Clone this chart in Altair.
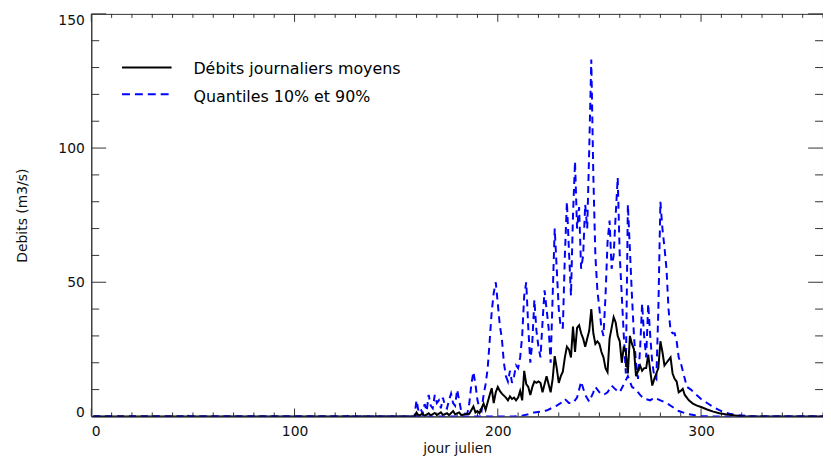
import altair as alt
import pandas as pd

# ---- data ----
mean_days = [1, 159, 160, 161, 163, 164, 166, 167, 169, 170, 172, 173, 175, 176, 178, 179, 181, 182, 184, 186,
             188, 189, 190, 191, 193, 194, 196, 197, 198, 199, 200, 201, 202, 204, 205, 206, 207, 208, 209, 210,
             211, 212, 213, 214, 215, 216, 217, 218, 219, 220, 221, 222, 223, 224, 225, 226, 227, 228, 229, 230,
             231, 232, 233, 234, 235, 236, 237, 238, 239, 240, 241, 242, 243, 244, 245, 246, 247, 248, 249, 250,
             251, 252, 253, 254, 255, 256, 257, 258, 259, 260, 261, 262, 263, 264, 265, 266, 267, 268, 269, 270,
             271, 272, 273, 274, 275, 276, 277, 278, 279, 280, 281, 282, 283, 284, 285, 286, 287, 288, 289, 290,
             291, 292, 293, 294, 296, 298, 300, 303, 306, 309, 312, 316, 320, 325, 365]
mean_vals = [0, 0, 1.5, 0.3, 1.0, 0.2, 1.2, 0.4, 1.3, 0.5, 1.5, 0.6, 1.2, 0.5, 2.0, 0.8, 1.5, 0.5, 0.8, 1.0,
             3.7, 1.5, 2.0, 1.2, 4.8, 2.5, 8.0, 10.5, 5.0, 9.0, 11.0, 9.5, 8.5, 7.0, 6.0, 7.5, 6.5, 7.0, 6.0, 7.0,
             9.5, 6.0, 17.0, 12.0, 11.0, 8.0, 11.0, 13.0, 12.5, 13.0, 12.5, 9.0, 12.0, 15.0, 12.0, 9.0, 14.0, 22.5, 18.0, 12.5,
             15.0, 16.7, 22.0, 26.0, 25.0, 22.0, 33.5, 24.0, 33.0, 34.0, 31.0, 29.0, 26.0, 29.0, 32.0, 40.0, 31.0, 27.0, 28.0, 27.0,
             24.0, 22.0, 18.0, 16.5, 29.0, 33.0, 37.0, 35.0, 30.0, 28.0, 20.0, 26.0, 24.0, 16.0, 30.0, 27.0, 25.0, 15.0, 17.0, 19.0,
             17.0, 18.0, 18.0, 23.0, 17.0, 11.5, 14.0, 16.0, 18.0, 28.0, 24.0, 19.0, 20.0, 21.0, 22.0, 16.0, 14.0, 13.0, 9.0, 9.5,
             10.3, 8.0, 7.0, 6.0, 4.8, 4.0, 3.5, 2.6, 1.8, 1.2, 0.8, 0.4, 0.1, 0, 0]

q90_days = [1, 46, 47, 48, 126, 127, 128, 159, 160, 161, 162, 163, 164, 165, 166, 167, 168, 169, 170, 171,
            172, 173, 174, 175, 176, 177, 178, 179, 180, 181, 182, 183, 184, 185, 186, 187, 188, 189, 190, 191,
            192, 193, 194, 195, 196, 197, 198, 199, 200, 201, 202, 203, 204, 205, 206, 207, 208, 209, 210, 211,
            212, 213, 214, 215, 216, 217, 218, 219, 220, 221, 222, 223, 224, 225, 226, 227, 228, 229, 230, 231,
            232, 233, 234, 235, 236, 237, 238, 239, 240, 241, 242, 243, 244, 245, 246, 247, 248, 249, 250, 251,
            252, 253, 254, 255, 256, 257, 258, 259, 260, 261, 262, 263, 264, 265, 266, 267, 268, 269, 270, 271,
            272, 273, 274, 275, 276, 277, 278, 279, 280, 281, 282, 283, 284, 285, 286, 287, 288, 289, 290, 291,
            292, 293, 295, 297, 300, 303, 306, 310, 314, 318, 322, 326, 365]
q90_vals = [0, 0, 0.7, 0, 0, 1.0, 0, 0, 6.0, 2.0, 3.0, 1.0, 4.6, 2.0, 8.0, 4.0, 3.0, 8.0, 5.0, 6.0,
            3.0, 7.0, 4.0, 3.0, 6.0, 8.5, 5.0, 4.0, 10.0, 6.0, 2.0, 1.5, 1.0, 1.0, 5.0, 12.0, 16.6, 12.0, 6.0, 3.0,
            2.0, 8.0, 12.0, 17.7, 28.0, 39.0, 46.0, 50.0, 42.0, 34.0, 29.0, 20.0, 15.0, 13.0, 17.0, 12.5, 15.0, 19.0, 18.0, 22.0,
            30.0, 45.0, 50.0, 33.0, 20.0, 28.0, 43.5, 32.0, 26.0, 22.0, 35.0, 47.0, 40.0, 33.0, 20.0, 45.0, 70.0, 55.0, 40.0, 33.0,
            33.0, 60.0, 80.0, 62.0, 45.0, 75.0, 95.0, 70.0, 78.0, 55.0, 60.0, 79.0, 70.0, 100.0, 133.0, 90.0, 60.0, 47.0, 40.0, 33.0,
            30.0, 45.0, 65.0, 73.0, 55.0, 60.0, 75.0, 89.0, 60.0, 45.0, 30.0, 16.0, 79.0, 62.0, 45.0, 30.0, 20.0, 14.0, 25.0, 42.0,
            30.0, 22.0, 42.0, 30.0, 20.0, 15.0, 14.0, 40.0, 80.0, 70.0, 63.0, 55.0, 40.0, 32.0, 31.0, 31.0, 28.0, 22.0, 20.0, 17.0,
            14.0, 11.0, 10.0, 8.5, 6.5, 5.0, 3.5, 2.0, 1.0, 0.5, 0.2, 0, 0]

q10_days = [1, 208, 212, 215, 218, 221, 224, 227, 229, 231, 233, 235, 237, 239, 241, 243, 245, 247, 248, 250,
            252, 254, 256, 258, 260, 262, 264, 266, 268, 270, 272, 275, 277, 280, 283, 286, 289, 291, 294, 297,
            300, 305, 365]
q10_vals = [0, 0, 0.3, 0.8, 1.5, 1.8, 2.2, 3.3, 4.0, 5.0, 6.5, 5.0, 5.0, 7.0, 13.0, 8.0, 5.5, 9.0, 11.0, 9.0,
            8.0, 9.0, 11.5, 10.0, 9.0, 12.0, 15.0, 11.0, 10.0, 8.0, 6.6, 6.0, 7.0, 6.0, 5.0, 3.5, 2.0, 1.5, 0.8, 0.4,
            0.1, 0, 0]

x_ticks = list(range(0, 361, 10))
x_major = [0, 100, 200, 300]
y_ticks = list(range(0, 151, 10))
y_major = [0, 50, 100, 150]

legend_labels = ["Débits journaliers moyens", "Quantiles 10% et 90%"]
x_title = "jour julien"
y_title = "Debits (m3/s)"

# ---- chart ----
W, H = 738, 406
FONT = "DejaVu Sans"
AX = "#333333"
BLUE = "#0000ff"

xscale = alt.Scale(domain=[0, 360], nice=False, zero=False)
yscale = alt.Scale(domain=[0, 150], nice=False, zero=False)
xaxis = alt.Axis(values=x_major, title=x_title, format="d", labelPadding=8,
                 titleY=36, titleBaseline="alphabetic")
yaxis = alt.Axis(
    values=y_major, title=y_title, format="d", labelPadding=7, titlePadding=29,
    labelBaseline={"condition": [{"test": "datum.value == 150", "value": "top"},
                                 {"test": "datum.value == 0", "value": "alphabetic"}],
                   "value": "middle"},
)

mean_df = pd.DataFrame({"jour": mean_days, "v": mean_vals})
q90_df = pd.DataFrame({"jour": q90_days, "v": q90_vals})
q10_df = pd.DataFrame({"jour": q10_days, "v": q10_vals})


def line(df, color, dash=None):
    kw = dict(color=color, strokeWidth=2, clip=True)
    if dash:
        kw["strokeDash"] = dash
    return alt.Chart(df).mark_line(**kw).encode(
        x=alt.X("jour:Q", scale=xscale, axis=xaxis),
        y=alt.Y("v:Q", scale=yscale, axis=yaxis),
    )


DASH = [7, 5]
q10_layer = line(q10_df, BLUE, DASH)
q90_layer = line(q90_df, BLUE, DASH)
mean_layer = line(mean_df, "black")

xt = pd.DataFrame({"t": x_ticks, "major": [t in x_major for t in x_ticks]})
yt = pd.DataFrame({"t": y_ticks, "major": [t in y_major for t in y_ticks]})


def xticks(major, bottom=True):
    ln = 8 if major else 4
    d = xt[xt["major"] == major]
    y0 = H if bottom else 0
    y1 = H - ln if bottom else ln
    return alt.Chart(d).mark_rule(color=AX, strokeWidth=1).encode(
        x=alt.X("t:Q", scale=xscale, axis=xaxis), y=alt.value(y0), y2=alt.value(y1))


def yticks(major, left=True):
    ln = 15 if major else 8
    d = yt[yt["major"] == major]
    x0 = 0 if left else W
    x1 = ln if left else W - ln
    return alt.Chart(d).mark_rule(color=AX, strokeWidth=1).encode(
        y=alt.Y("t:Q", scale=yscale, axis=yaxis), x=alt.value(x0), x2=alt.value(x1))


one = pd.DataFrame({"a": [0]})
leg_solid = alt.Chart(one).mark_rule(color="black", strokeWidth=2).encode(
    x=alt.value(31), x2=alt.value(81), y=alt.value(54))
leg_dash = alt.Chart(one).mark_rule(color=BLUE, strokeWidth=2, strokeDash=[8, 5]).encode(
    x=alt.value(31), x2=alt.value(81), y=alt.value(81))
leg_t1 = alt.Chart(one).mark_text(align="left", baseline="middle", font=FONT, fontSize=16,
                                  color="black").encode(
    x=alt.value(103), y=alt.value(56), text=alt.value(legend_labels[0]))
leg_t2 = alt.Chart(one).mark_text(align="left", baseline="middle", font=FONT, fontSize=16,
                                  color="black").encode(
    x=alt.value(103), y=alt.value(84), text=alt.value(legend_labels[1]))

chart = alt.layer(
    xticks(True), xticks(False), xticks(True, False), xticks(False, False),
    yticks(True), yticks(False), yticks(True, False), yticks(False, False),
    q10_layer, q90_layer, mean_layer,
    leg_solid, leg_dash, leg_t1, leg_t2,
).properties(
    width=W, height=H,
    padding={"left": 84, "top": 4, "right": 0, "bottom": 40},
    autosize="none",
    background="white",
).configure_axis(
    grid=False, ticks=False, domain=True, domainColor=AX, domainWidth=1,
    labelFont=FONT, labelFontSize=14, labelColor="#111111",
    titleFont=FONT, titleFontSize=14, titleFontWeight="normal", titleColor="#111111",
).configure_view(stroke=AX, strokeWidth=1)

chart.save("out.html", embed_options={"renderer": "svg", "actions": False})
